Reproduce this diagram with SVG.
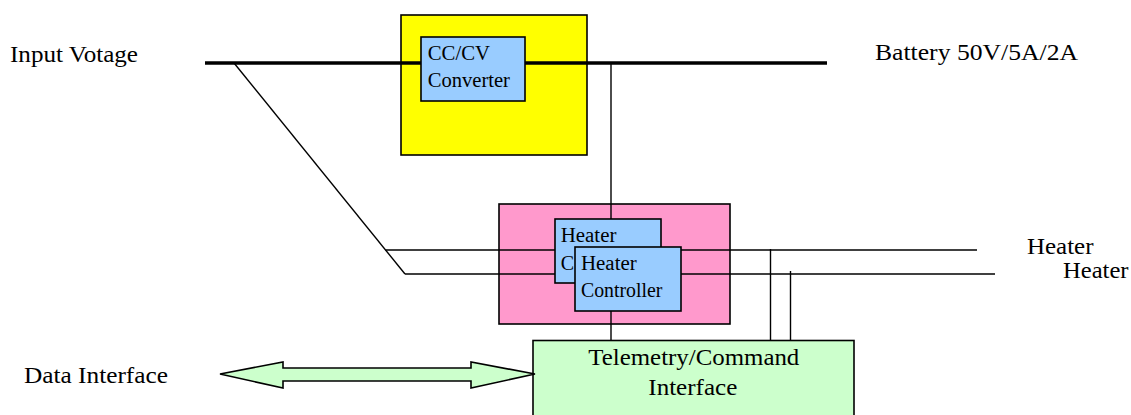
<svg xmlns="http://www.w3.org/2000/svg" width="1131" height="415" viewBox="0 0 1131 415">
<style>
text{font-family:"Liberation Serif","Times New Roman",serif;fill:#000}
.big{font-size:24px}
.small{font-size:20px}
.box{stroke:#000;stroke-width:1.6}
.yellow{fill:#FFFF00}
.pink{fill:#FF99CC}
.green{fill:#CCFFCC}
.blue{fill:#99CCFF}
.thin{stroke:#000;stroke-width:1.4;fill:none}
.thick{stroke:#000;stroke-width:3.6;fill:none}
</style>
<rect width="1131" height="415" fill="#fff"/>
<g id="labels">
<text class="big" x="10" y="62" textLength="128" lengthAdjust="spacingAndGlyphs">Input Votage</text>
<text class="big" x="875" y="60" textLength="203" lengthAdjust="spacingAndGlyphs">Battery 50V/5A/2A</text>
<text class="big" x="1027" y="254" textLength="66.5" lengthAdjust="spacingAndGlyphs">Heater</text>
<text class="big" x="1063" y="278" textLength="65.5" lengthAdjust="spacingAndGlyphs">Heater</text>
<text class="big" x="24" y="383" textLength="144" lengthAdjust="spacingAndGlyphs">Data Interface</text>
</g>
<g id="charger">
<rect class="box yellow" x="401" y="15" width="186" height="140"/>
</g>
<g id="heater-unit">
<rect class="box pink" x="499" y="204" width="231" height="120"/>
</g>
<g id="telemetry">
<rect class="box green" x="533" y="340.5" width="321" height="90"/>
<text class="big" x="588.3" y="365" textLength="211" lengthAdjust="spacingAndGlyphs">Telemetry/Command</text>
<text class="big" x="648.3" y="395" textLength="89" lengthAdjust="spacingAndGlyphs">Interface</text>
</g>
<g id="connectors">
<line class="thick" x1="205" y1="63" x2="827" y2="63"/>
<line class="thin" x1="234" y1="63" x2="405" y2="274"/>
<line class="thin" x1="611" y1="63" x2="611" y2="219"/>
<line class="thin" x1="385.5" y1="250" x2="977" y2="250"/>
<line class="thin" x1="405" y1="274" x2="995" y2="274"/>
<line class="thin" x1="611" y1="311" x2="611" y2="340.5"/>
<line class="thin" x1="770.5" y1="249" x2="770.5" y2="340.5"/>
<line class="thin" x1="790.5" y1="271" x2="790.5" y2="340.5"/>
<polygon id="data-arrow" points="220,374 283,362 283,368 471,368 471,362 535,374 471,388 471,381 283,381 283,388" fill="#CCFFCC" stroke="#000" stroke-width="1.6" stroke-linejoin="miter"/>
</g>
<g id="converter">
<rect class="box blue" x="421" y="37" width="104" height="64"/>
<text class="small" x="427.7" y="60" textLength="62.3" lengthAdjust="spacingAndGlyphs">CC/CV</text>
<text class="small" x="427.7" y="87.3" textLength="82.3" lengthAdjust="spacingAndGlyphs">Converter</text>
</g>
<g id="heater-controller-1">
<rect class="box blue" x="555" y="219" width="106" height="64"/>
<text class="small" x="560.7" y="241.7" textLength="55.7" lengthAdjust="spacingAndGlyphs">Heater</text>
<text class="small" x="560.7" y="269.5">C</text>
</g>
<g id="heater-controller-2">
<rect class="box blue" x="575" y="247" width="106" height="64"/>
<text class="small" x="581" y="269.7" textLength="55.7" lengthAdjust="spacingAndGlyphs">Heater</text>
<text class="small" x="581" y="297.3" textLength="81.3" lengthAdjust="spacingAndGlyphs">Controller</text>
</g>
</svg>
